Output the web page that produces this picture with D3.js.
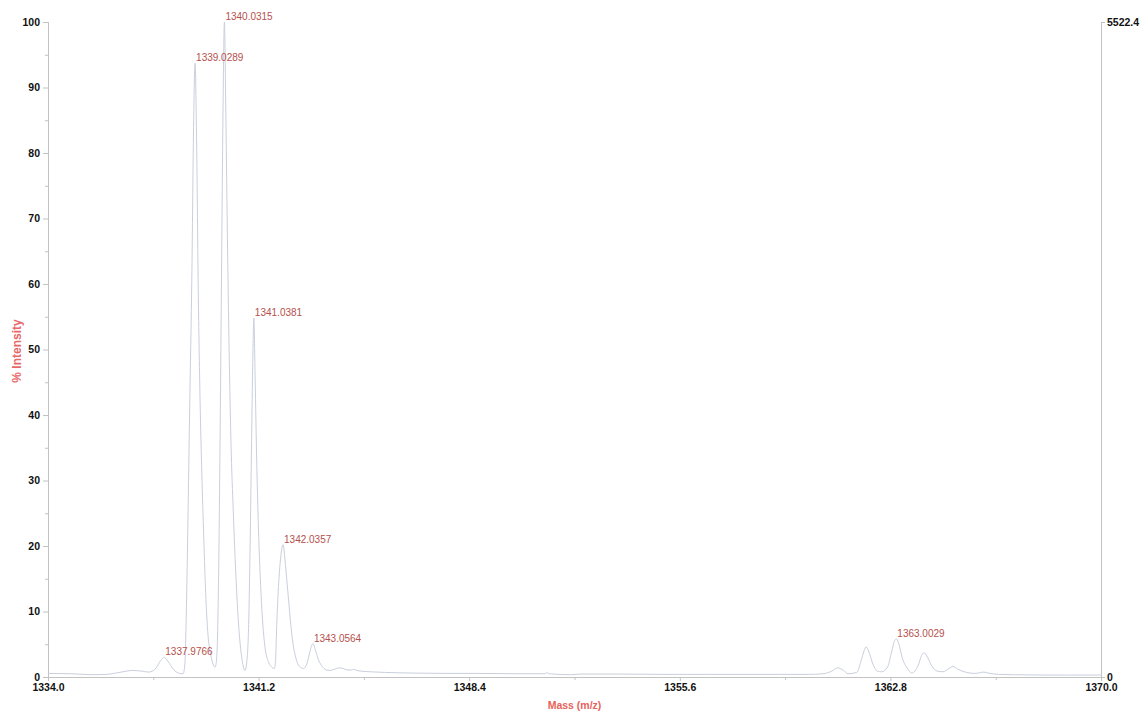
<!DOCTYPE html>
<html>
<head>
<meta charset="utf-8">
<script src="https://cdn.jsdelivr.net/npm/d3@7"></script>
<style>
  html, body { margin: 0; padding: 0; background: #ffffff; }
  svg { display: block; }
</style>
</head>
<body>
<svg id="chart" width="1142" height="711"></svg>
<script>
// ---- data ----
const specMass = [
  1334.00, 1334.80, 1335.50, 1336.00, 1336.50, 1336.90, 1337.20, 1337.45, 1337.70, 1337.85,
  1337.98, 1338.10, 1338.30, 1338.50, 1338.62, 1338.68, 1338.72, 1338.77, 1338.84, 1338.92,
  1338.98, 1339.029, 1339.08, 1339.14, 1339.20, 1339.26, 1339.32, 1339.38, 1339.46, 1339.56,
  1339.64, 1339.71, 1339.76, 1339.80, 1339.84, 1339.88, 1339.93, 1339.98, 1340.031, 1340.08,
  1340.14, 1340.20, 1340.26, 1340.32, 1340.38, 1340.45, 1340.55, 1340.64, 1340.735, 1340.80,
  1340.86, 1340.91, 1340.96, 1341.00, 1341.038, 1341.08, 1341.14, 1341.20, 1341.26, 1341.33,
  1341.42, 1341.52, 1341.63, 1341.737, 1341.78, 1341.82, 1341.87, 1341.95, 1342.036, 1342.10,
  1342.17, 1342.24, 1342.30, 1342.38, 1342.48, 1342.60, 1342.728, 1342.85, 1342.95, 1343.056,
  1343.15, 1343.25, 1343.38, 1343.50, 1343.64, 1343.80, 1343.95, 1344.05, 1344.20, 1344.35,
  1344.45, 1344.60, 1345.00, 1345.50, 1346.50, 1347.50, 1348.50, 1350.00, 1351.00, 1351.06,
  1351.12, 1351.90, 1352.20, 1353.50, 1355.00, 1356.50, 1358.00, 1359.00, 1360.00, 1360.50,
  1360.80, 1361.00, 1361.20, 1361.35, 1361.65, 1361.80, 1361.90, 1361.97, 1362.05, 1362.20,
  1362.35, 1362.50, 1362.70, 1362.85, 1362.93, 1363.003, 1363.08, 1363.20, 1363.40, 1363.53,
  1363.75, 1363.87, 1363.95, 1364.05, 1364.20, 1364.40, 1364.60, 1364.80, 1364.94, 1365.10,
  1365.40, 1365.70, 1365.85, 1366.00, 1366.15, 1366.50, 1367.00, 1368.00, 1369.00, 1370.00
];
const specIntensity = [
  0.55, 0.50, 0.35, 0.40, 0.75, 1.00, 0.90, 0.75, 1.40, 2.50,
  3.00, 2.40, 1.10, 0.55, 0.50, 2.0, 8, 20, 40, 62,
  85, 93.7, 82, 58, 42, 31, 22, 14, 7, 3.5,
  2.0, 1.5, 2.5, 7, 18, 35, 60, 85, 100, 86,
  65, 48, 35, 27, 20, 13, 6, 2.5, 1.0, 2.5,
  8, 20, 36, 48, 54.8, 46, 32, 22, 15, 9,
  4.5, 2.5, 1.6, 1.3, 2.5, 8, 13, 18, 20.2, 18,
  14.5, 11, 8, 5, 2.8, 1.6, 1.3, 2.0, 3.8, 5.1,
  4.0, 2.6, 1.6, 1.1, 1.0, 1.2, 1.4, 1.35, 1.1, 1.05,
  1.15, 0.95, 0.80, 0.70, 0.60, 0.55, 0.55, 0.50, 0.50, 0.70,
  0.50, 0.35, 0.45, 0.45, 0.40, 0.40, 0.40, 0.40, 0.40, 0.50,
  0.90, 1.40, 1.00, 0.50, 0.70, 2.50, 4.00, 4.60, 4.00, 2.00,
  0.90, 0.80, 1.50, 4.00, 5.40, 5.80, 5.20, 3.00, 1.20, 0.60,
  1.80, 3.30, 3.70, 3.20, 1.80, 0.90, 0.80, 1.30, 1.60, 1.20,
  0.70, 0.55, 0.65, 0.75, 0.60, 0.40, 0.35, 0.30, 0.30, 0.30
];
const peakMz = [1337.9766, 1339.0289, 1340.0315, 1341.0381, 1342.0357, 1343.0564, 1363.0029];
const peakIntensity = [3.0, 93.7, 100, 54.8, 20.2, 5.1, 5.8];

const xMajorTicks = [1334.0, 1341.2, 1348.4, 1355.6, 1362.8, 1370.0];
const xMinorTicks = [1337.6, 1344.8, 1352.0, 1359.2, 1366.4];
const yMajorTicks = [0, 10, 20, 30, 40, 50, 60, 70, 80, 90, 100];
const yMinorTicks = [5, 15, 25, 35, 45, 55, 65, 75, 85, 95];
const countMax = 5522.4;
const rightTicks = [0, countMax];
const xTitle = "Mass (m/z)";
const yTitle = "% Intensity";

// ---- layout ----
const plotLeft = 48, plotRight = 1101, plotTop = 22, plotBottom = 677;
const FONT = "'Liberation Sans', Arial, Helvetica, sans-serif";
const AXIS_COLOR = "#c2c2c2";

const svg = d3.select("#chart");
const x = d3.scaleLinear().domain([1334, 1370]).range([plotLeft, plotRight]);
const y = d3.scaleLinear().domain([0, 100]).range([plotBottom, plotTop]);
const yR = d3.scaleLinear().domain([0, countMax]).range([plotBottom, plotTop]);

function styleAxis(g) {
  g.select(".domain").attr("stroke", AXIS_COLOR).attr("stroke-width", 1);
  g.selectAll(".tick line").attr("stroke", AXIS_COLOR).attr("stroke-width", 1);
  g.selectAll(".tick text")
    .attr("fill", "#111")
    .style("font-family", FONT)
    .style("font-size", "10.5px")
    .style("font-weight", "bold");
}

// minor ticks
svg.append("g").attr("transform", `translate(${plotLeft},0)`)
  .call(d3.axisLeft(y).tickValues(yMinorTicks).tickSize(3).tickFormat(""))
  .call(styleAxis);
svg.append("g").attr("transform", `translate(0,${plotBottom})`)
  .call(d3.axisBottom(x).tickValues(xMinorTicks).tickSize(3).tickFormat(""))
  .call(styleAxis);

// major axes
svg.append("g").attr("transform", `translate(${plotLeft},0)`)
  .call(d3.axisLeft(y).tickValues(yMajorTicks).tickSize(5).tickPadding(3).tickFormat(d3.format("d")))
  .call(styleAxis);
svg.append("g").attr("transform", `translate(0,${plotBottom})`)
  .call(d3.axisBottom(x).tickValues(xMajorTicks).tickSize(4).tickPadding(3).tickFormat(d3.format(".1f")))
  .call(styleAxis);
const rightAxis = svg.append("g").attr("transform", `translate(${plotRight},0)`)
  .call(d3.axisRight(yR).tickValues(rightTicks).tickSize(4).tickPadding(2)
        .tickFormat(d => d === 0 ? "0" : d3.format(".1f")(d)))
  .call(styleAxis);
rightAxis.selectAll(".tick text").attr("dy", "0.3em");

// spectrum trace
const pts = d3.zip(specMass, specIntensity);
const line = d3.line()
  .x(d => x(d[0]))
  .y(d => y(d[1]))
  .curve(d3.curveMonotoneX);
svg.append("path")
  .datum(pts)
  .attr("d", line)
  .attr("fill", "none")
  .attr("stroke", "#c9cfdc")
  .attr("stroke-width", 1);

// peak labels
svg.append("g").selectAll("text")
  .data(d3.zip(peakMz, peakIntensity))
  .join("text")
  .attr("x", d => x(d[0]) + 1)
  .attr("y", d => y(d[1]) - 2)
  .attr("fill", "#b5504c")
  .style("font-family", FONT)
  .style("font-size", "10px")
  .text(d => d[0].toFixed(4));

// axis titles
svg.append("text")
  .attr("x", (plotLeft + plotRight) / 2)
  .attr("y", 709)
  .attr("text-anchor", "middle")
  .attr("fill", "#e8625c")
  .style("font-family", FONT)
  .style("font-size", "10.5px")
  .style("font-weight", "bold")
  .text(xTitle);

svg.append("text")
  .attr("transform", `translate(21,351) rotate(-90)`)
  .attr("text-anchor", "middle")
  .attr("fill", "#e8686a")
  .style("font-family", FONT)
  .style("font-size", "12px")
  .style("font-weight", "bold")
  .text(yTitle);
</script>
</body>
</html>
